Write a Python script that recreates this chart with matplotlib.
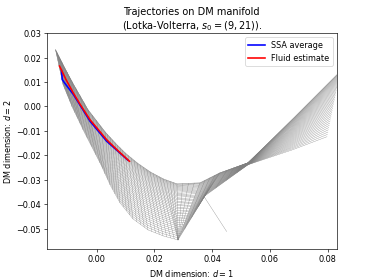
import numpy as np
import matplotlib
matplotlib.use("Agg")
import matplotlib.pyplot as plt

# outer edge of the manifold mesh (v = 0), knots in DM coordinates
top_x = [-0.01427, -0.01202, -0.00856, -0.00301, 0.00287, 0.00634, 0.00980,
         0.01396, 0.01846, 0.02297, 0.02781, 0.03578, 0.04271, 0.05241,
         0.06696, 0.08428]
top_y = [0.02329, 0.01796, 0.01017, -0.00131, -0.01033, -0.01484, -0.01894,
         -0.02304, -0.02673, -0.02960, -0.03165, -0.03124, -0.02714, -0.02304,
         -0.00623, 0.01427]

# inner edge of the manifold mesh (v = 1), same knots
bot_x = [-0.01167, -0.00856, -0.00475, 0.00114, 0.00461, 0.00807, 0.01257,
         0.01777, 0.02297, 0.02816, 0.02816, 0.02816, 0.03751, 0.05241,
         0.06696, 0.07978]
bot_y = [0.00894, -0.00008, -0.00951, -0.02304, -0.03206, -0.03944, -0.04600,
         -0.05051, -0.05297, -0.05461, -0.05461, -0.05461, -0.03657, -0.02386,
         -0.01812, -0.01238]

# loose edge hanging off the mesh corner
stray_x = [0.03717, 0.04503]
stray_y = [-0.03686, -0.05121]

ssa_x = [-0.01219, -0.01192, -0.01133, -0.00804, -0.00232, 0.00346, 0.01084]
ssa_y = [0.01468, 0.01099, 0.00996, 0.00484, -0.00603, -0.01423, -0.02202]

fluid_x = [-0.01289, -0.01254, -0.01063, -0.00811, -0.00578, -0.00232,
           0.00346, 0.00738, 0.01136]
fluid_y = [0.01652, 0.01570, 0.01099, 0.00554, 0.00094, -0.00541,
           -0.01361, -0.01812, -0.02243]

N_LONG = 40
CROSS_PER_KNOT = 4
LAST_CROSS_KNOT = 13


def mesh(u, v):
    knots = np.arange(len(top_x))
    tx = np.interp(u, knots, top_x)
    ty = np.interp(u, knots, top_y)
    bx = np.interp(u, knots, bot_x)
    by = np.interp(u, knots, bot_y)
    v = np.asarray(v)[:, None]
    return tx * (1 - v) + bx * v, ty * (1 - v) + by * v


def main():
    fig, ax = plt.subplots(figsize=(6.4, 4.8), dpi=374 / 6.4)

    # long lines bunch up along the outer edge
    v = np.linspace(0, 1, N_LONG) ** 1.4
    u_fine = np.linspace(0, len(top_x) - 1, 301)
    gx, gy = mesh(u_fine, v)
    for i in range(N_LONG):
        ax.plot(gx[i], gy[i], color="0.5", lw=0.4)

    # cross lines only up to the twist, the right-hand band has none
    u_cross = np.linspace(0, LAST_CROSS_KNOT, LAST_CROSS_KNOT * CROSS_PER_KNOT + 1)
    cx, cy = mesh(u_cross, v)
    for j in range(len(u_cross)):
        ax.plot(cx[:, j], cy[:, j], color="0.5", lw=0.4)
    ax.plot(stray_x, stray_y, color="0.5", lw=0.4)

    ax.plot(ssa_x, ssa_y, color="b", lw=2, label="SSA average")
    ax.plot(fluid_x, fluid_y, color="r", lw=2, label="Fluid estimate")

    ax.set_xlim(-0.0173, 0.0831)
    ax.set_ylim(-0.0584, 0.03)
    ax.set_title("Trajectories on DM manifold\n(Lotka-Volterra, $s_0 = (9, 21)$).")
    ax.set_xlabel("DM dimension: $d = 1$")
    ax.set_ylabel("DM dimension: $d = 2$")
    ax.legend(loc="upper right")

    fig.savefig("out.png")


if __name__ == "__main__":
    main()
